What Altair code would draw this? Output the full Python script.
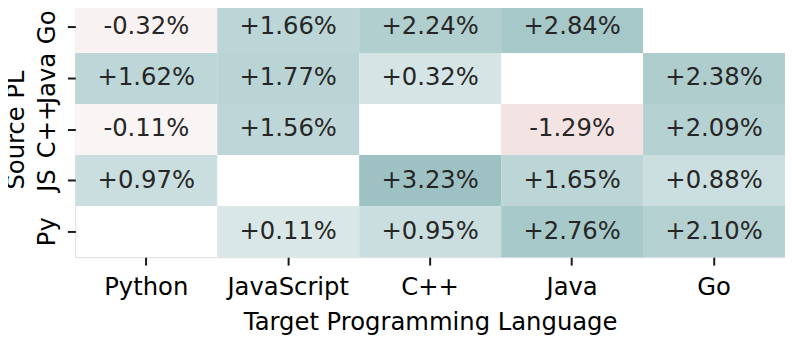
import altair as alt
import pandas as pd

sources = ["Go", "Java", "C++", "JS", "Py"]
targets = ["Python", "JavaScript", "C++", "Java", "Go"]
values = [
    [-0.32, 1.66, 2.24, 2.84, None],
    [1.62, 1.77, 0.32, None, 2.38],
    [-0.11, 1.56, None, -1.29, 2.09],
    [0.97, None, 3.23, 1.65, 0.88],
    [None, 0.11, 0.95, 2.76, 2.10],
]

rows = []
for s, vals in zip(sources, values):
    for t, v in zip(targets, vals):
        if v is None:
            continue
        rows.append({"src": s, "tgt": t, "v": v, "label": f"{v:+.2f}%"})
df = pd.DataFrame(rows)

FONT = "DejaVu Sans"
FS = 24.5

color_scale = alt.Scale(
    domain=[-1.29, -0.11, 0.11, 0.95, 1.66, 2.24, 2.84, 3.23],
    range=["#f4e3e3", "#faf5f5", "#d9e7e7", "#cadedf", "#bcd5d6",
           "#b2cfcf", "#a6c8c8", "#9ec2c3"],
)

band = alt.Scale(paddingInner=0, paddingOuter=0)
x = alt.X("tgt:N", sort=targets, title="Target Programming Language", scale=band,
          axis=alt.Axis(ticks=True, tickSize=8, tickWidth=2, tickColor="#1a1a1a"))
y = alt.Y("src:N", sort=sources, title="Source PL", scale=band,
          axis=alt.Axis(ticks=True, tickSize=8, tickWidth=2, tickColor="#1a1a1a"))

base = alt.Chart(df)
rects = base.mark_rect().encode(
    x=x, y=y,
    color=alt.Color("v:Q", scale=color_scale, legend=None),
)
texts = base.mark_text(font=FONT, fontSize=FS, color="#262626").encode(
    x=x, y=y, text="label:N",
)

chart = (rects + texts).properties(
    width=717, height=258,
    autosize=alt.AutoSizeParams(type="none"),
    padding={"left": 68, "top": -8, "right": 0, "bottom": 90},
).configure_view(strokeWidth=0, stroke="transparent").configure(
    background="white"
).configure_axis(
    grid=False, domainColor="white", domainOpacity=0,
    labelColor="#000", titleColor="#000",
    labelFontSize=FS, titleFontSize=FS, labelFont=FONT, titleFont=FONT,
    titleFontWeight="normal",
).configure_axisX(
    labelAngle=0, labelPadding=11, titlePadding=12,
).configure_axisY(
    labelAngle=270, labelAlign="center", labelBaseline="bottom",
    labelPadding=8, titlePadding=6,
)

chart.save("out.html", embed_options={"renderer": "svg", "actions": False})
